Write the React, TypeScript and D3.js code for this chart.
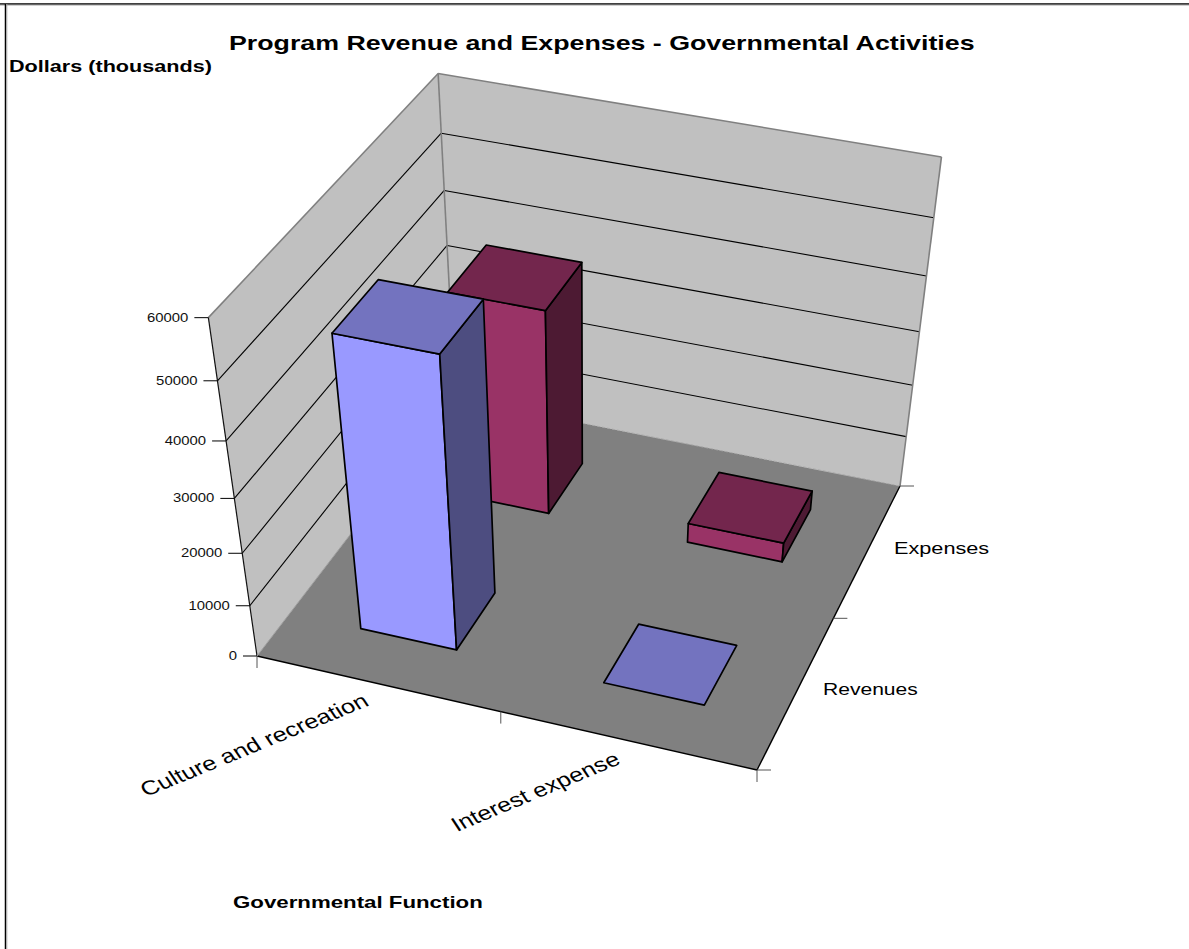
import React from "react";
import * as d3 from "d3";

// Values in thousands of dollars
const functions = ["Culture and recreation", "Interest expense"];
const seriesNames = ["Revenues", "Expenses"];
const revenues = [53400, 0];
const expenses = [38500, 3800];
const valueTicks = [0, 10000, 20000, 30000, 40000, 50000, 60000];

const chartTitle = "Program Revenue and Expenses - Governmental Activities";
const valueTitle = "Dollars (thousands)";
const functionTitle = "Governmental Function";

const FONT = "'Liberation Sans', Arial, sans-serif";

type Pt = [number, number];

// Calibration of the view: floor corners and wall tops on screen
const floorFrontLeft: Pt = [257, 656];
const floorFrontRight: Pt = [757, 770];
const floorBackRight: Pt = [900, 486];
const floorBackLeft: Pt = [455, 398];
const liftX = -75.3;
const liftY = -379;
const liftW = -0.128;

function makeProjection() {
  const [x0, y0] = floorFrontLeft;
  const [x1, y1] = floorFrontRight;
  const [x2, y2] = floorBackRight;
  const [x3, y3] = floorBackLeft;
  const dx1 = x1 - x2, dx2 = x3 - x2, sx = x0 - x1 + x2 - x3;
  const dy1 = y1 - y2, dy2 = y3 - y2, sy = y0 - y1 + y2 - y3;
  const den = dx1 * dy2 - dx2 * dy1;
  const g = (sx * dy2 - dx2 * sy) / den;
  const k = (dx1 * sy - sx * dy1) / den;
  const a = x1 - x0 + g * x1, b = x3 - x0 + k * x3;
  const d = y1 - y0 + g * y1, e = y3 - y0 + k * y3;
  // u runs along the functions, v along the series, h up the value axis (all 0..1)
  return (u: number, v: number, h: number): Pt => {
    const w = g * u + k * v + 1 + liftW * h;
    return [
      (a * u + b * v + x0 + liftX * h) / w,
      (d * u + e * v + y0 + liftY * h) / w,
    ];
  };
}

const project = makeProjection();
const valueScale = d3.scaleLinear().domain([0, 60000]).range([0, 1]);
const fnBand = d3.scaleBand<string>().domain(functions).range([0, 1]).paddingInner(0.6).paddingOuter(0.3);
const seriesBand = d3.scaleBand<string>().domain(seriesNames).range([0, 1]).paddingInner(0.6).paddingOuter(0.3);

const poly = (pts: Pt[]) => (d3.line()(pts) as string) + "Z";

const palette: Record<string, { front: string; top: string; side: string }> = {
  Revenues: { front: "#9999ff", top: "#7373bf", side: "#4d4d80" },
  Expenses: { front: "#993366", top: "#73264d", side: "#4d1a33" },
};

type Stretched = {
  x: number; y: number; text: string; size: number; bold?: boolean;
  sx: number; angle?: number; anchor?: string; color?: string;
};

// The chart's lettering is wider than its height suggests, so each label is widened horizontally
function Label({ x, y, text, size, bold, sx, angle = 0, anchor = "start", color = "#000" }: Stretched) {
  return (
    <text
      transform={`translate(${x},${y}) scale(${sx},1) rotate(${angle})`}
      fontFamily={FONT}
      fontSize={size}
      fontWeight={bold ? 700 : 400}
      textAnchor={anchor}
      fill={color}
    >
      {text}
    </text>
  );
}

function Bar({ fn, series, value }: { fn: string; series: string; value: number }) {
  const u0 = fnBand(fn)!, u1 = u0 + fnBand.bandwidth();
  const v0 = seriesBand(series)!, v1 = v0 + seriesBand.bandwidth();
  const h = valueScale(value);
  const c = palette[series];
  const stroke = { stroke: "#000", strokeWidth: 1.7, strokeLinejoin: "round" as const };
  return (
    <g>
      {value > 0 && (
        <>
          <path d={poly([project(u0, v0, 0), project(u1, v0, 0), project(u1, v0, h), project(u0, v0, h)])} fill={c.front} {...stroke} />
          <path d={poly([project(u1, v0, 0), project(u1, v1, 0), project(u1, v1, h), project(u1, v0, h)])} fill={c.side} {...stroke} />
        </>
      )}
      <path d={poly([project(u0, v0, h), project(u1, v0, h), project(u1, v1, h), project(u0, v1, h)])} fill={c.top} {...stroke} />
    </g>
  );
}

function seg(a: Pt, b: Pt, color: string, width: number, key?: string, dash?: string) {
  return <line key={key} x1={a[0]} y1={a[1]} x2={b[0]} y2={b[1]} stroke={color} strokeWidth={width} strokeDasharray={dash} />;
}

export default function App() {
  const gridLevels = valueTicks.slice(1, -1).map((t) => valueScale(t));
  const wallGrey = "#c0c0c0";
  const edgeGrey = "#808080";

  const bars = [
    ...functions.map((fn, i) => ({ fn, series: "Expenses", value: expenses[i] })),
    ...functions.map((fn, i) => ({ fn, series: "Revenues", value: revenues[i] })),
  ];

  return (
    <svg width={1189} height={949} style={{ position: "absolute", left: 0, top: 0, display: "block", background: "#fff" }}>
      {/* frame remnants on the top and left */}
      <line x1={0} y1={4} x2={1189} y2={4} stroke="#000" strokeWidth={1.5} />
      <line x1={0} y1={5.2} x2={1189} y2={5.2} stroke="#bbb" strokeWidth={1} />
      <line x1={5.5} y1={4} x2={5.5} y2={949} stroke="#000" strokeWidth={1.5} />
      <line x1={6.8} y1={4} x2={6.8} y2={949} stroke="#aaa" strokeWidth={1} />

      {/* walls */}
      <path d={poly([project(0, 0, 0), project(0, 1, 0), project(0, 1, 1), project(0, 0, 1)])} fill={wallGrey} />
      <path d={poly([project(0, 1, 0), project(1, 1, 0), project(1, 1, 1), project(0, 1, 1)])} fill={wallGrey} />

      {gridLevels.map((h, i) => (
        <g key={i}>
          {seg(project(0, 0, h), project(0, 1, h), "#000", 1.1)}
          {seg(project(0, 1, h), project(1, 1, h), "#000", 1.1)}
        </g>
      ))}

      {seg(project(0, 0, 1), project(0, 1, 1), edgeGrey, 1.6)}
      {seg(project(0, 1, 1), project(1, 1, 1), edgeGrey, 1.6)}
      {seg(project(0, 1, 0), project(0, 1, 1), edgeGrey, 1.6)}
      {seg(project(1, 1, 0), project(1, 1, 1), edgeGrey, 1.6)}
      {seg(project(0, 0, 0), project(0, 0, 1), "#111", 1.2)}

      {/* floor */}
      <path d={poly([project(0, 0, 0), project(1, 0, 0), project(1, 1, 0), project(0, 1, 0)])} fill="#808080" />
      {seg(project(0, 0, 0), project(1, 0, 0), "#000", 1.4)}
      {seg(project(1, 0, 0), project(1, 1, 0), "#000", 1.4)}
      {seg(project(0, 1, 0), project(1, 1, 0), "#a8a8a8", 1, undefined, "3 2")}
      {seg(project(0, 0, 0), project(0, 1, 0), "#a0a0a0", 1)}

      {/* value axis */}
      {valueTicks.map((t) => {
        const p = project(0, 0, valueScale(t));
        return (
          <g key={t}>
            {seg(p, [p[0] - 14, p[1]], "#000", 1)}
            <Label x={p[0] - 20} y={p[1] + 4} text={String(t)} size={12} sx={1.24} anchor="end" color="#111" />
          </g>
        );
      })}

      {/* function axis ticks */}
      {[0, 0.5, 1].map((u) => {
        const p = project(u, 0, 0);
        return <g key={u}>{seg(p, [p[0], p[1] + 12], "#555", 1)}</g>;
      })}
      {/* series axis ticks */}
      {[0, 0.5, 1].map((v) => {
        const p = project(1, v, 0);
        return <g key={v}>{seg(p, [p[0] + 14, p[1]], "#555", 1)}</g>;
      })}

      {bars.map((b) => (
        <Bar key={b.fn + b.series} {...b} />
      ))}

      {/* text */}
      <Label x={229} y={50} text={chartTitle} size={21} bold sx={1.275} />
      <Label x={9} y={72} text={valueTitle} size={17} bold sx={1.272} />
      <Label x={233} y={908} text={functionTitle} size={17} bold sx={1.31} />
      <Label x={894} y={554} text={seriesNames[1]} size={17} sx={1.276} />
      <Label x={823} y={695} text={seriesNames[0]} size={17} sx={1.24} />
      <Label x={146} y={797} text={functions[0]} size={20} sx={1.28} angle={-27.7} />
      <Label x={457} y={832} text={functions[1]} size={20} sx={1.26} angle={-27.7} />
    </svg>
  );
}
